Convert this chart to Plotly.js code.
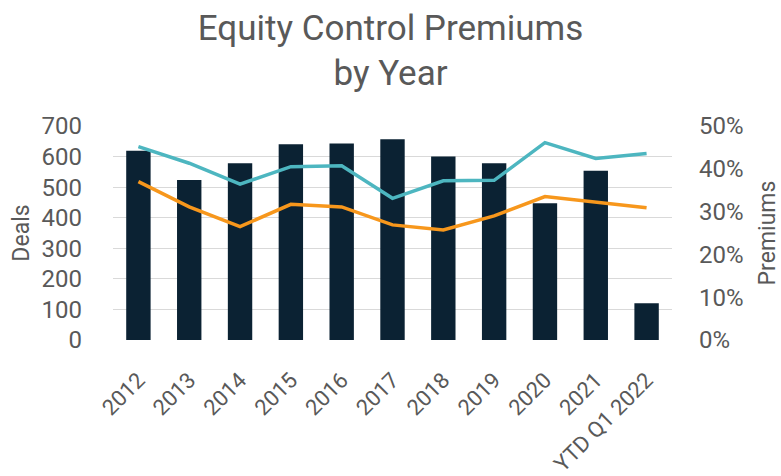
<!DOCTYPE html>
<html>
<head>
<meta charset="utf-8">
<script src="https://cdn.plot.ly/plotly-3.0.1.min.js"></script>
<style>html,body{margin:0;padding:0;background:#fff;}#chart{width:781px;height:476px;}</style>
</head>
<body>
<div id="chart"></div>
<script>
const categories = ["2012","2013","2014","2015","2016","2017","2018","2019","2020","2021","YTD Q1 2022"];
const deals = [619, 523, 578, 640, 643, 657, 600, 578, 447, 554, 120];
const premiumUpper = [0.452, 0.413, 0.364, 0.405, 0.407, 0.331, 0.372, 0.373, 0.461, 0.424, 0.436];
const premiumLower = [0.370, 0.311, 0.265, 0.317, 0.311, 0.269, 0.257, 0.290, 0.335, 0.321, 0.309];

const grey = "#595959";
const font = "Roboto, 'Open Sans', sans-serif";

const data = [
  {type: "bar", x: categories, y: deals, marker: {color: "#0B2233"}, width: 0.48, name: "Deals", yaxis: "y"},
  {type: "scatter", mode: "lines", x: categories, y: premiumUpper, line: {color: "#4DB6C0", width: 3.5}, yaxis: "y2", name: "Premium A"},
  {type: "scatter", mode: "lines", x: categories, y: premiumLower, line: {color: "#F7971C", width: 3.5}, yaxis: "y2", name: "Premium B"}
];

const layout = {
  width: 781, height: 476,
  margin: {l: 113, r: 109, t: 126, b: 136},
  paper_bgcolor: "#fff", plot_bgcolor: "#fff",
  showlegend: false,
  font: {family: font, color: grey, size: 22},
  title: {text: "Equity Control Premiums<br>by Year", x: 0.5, xanchor: "center", y: 0.916, yanchor: "middle", font: {family: font, size: 35, color: grey}},
  xaxis: {type: "category", tickangle: -45, tickfont: {size: 22, color: grey}, showgrid: false, zeroline: false, showline: false, ticks: "", ticklabelstandoff: 22},
  yaxis: {range: [0, 700], dtick: 100, tickfont: {size: 24, color: grey}, gridcolor: "#D9D9D9", gridwidth: 1, zeroline: false, showline: false, ticklabelstandoff: 30,
          title: {text: "Deals", font: {size: 23, color: grey}, standoff: 5}},
  yaxis2: {overlaying: "y", side: "right", range: [0, 0.5], dtick: 0.1, tickformat: ".0%", tickfont: {size: 24, color: grey}, showgrid: false, zeroline: false, showline: false, ticklabelstandoff: 26,
           title: {text: "Premiums", font: {size: 23, color: grey}, standoff: 17}}
};

Plotly.newPlot("chart", data, layout, {displayModeBar: false, staticPlot: true});
</script>
</body>
</html>
